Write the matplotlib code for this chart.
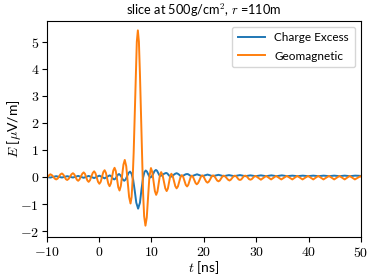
import matplotlib
matplotlib.use("Agg")
import matplotlib.pyplot as plt
from matplotlib.ticker import FuncFormatter

# 波形点（极值点与其间的若干点）
t_geo = [-10.0, -9.825, -9.65, -9.475, -9.3, -9.025, -8.75, -8.475, -8.2, -7.925, -7.65, -7.375,
         -7.1, -6.85, -6.6, -6.35, -6.1, -5.825, -5.55, -5.275, -5.0, -4.75, -4.5, -4.25,
         -4.0, -3.74, -3.48, -3.21, -2.95, -2.71, -2.48, -2.24, -2.0, -1.74, -1.48, -1.21,
         -0.95, -0.7, -0.45, -0.2, 0.05, 0.3, 0.55, 0.8, 1.05, 1.29, 1.53, 1.76,
         2.0, 2.24, 2.48, 2.71, 2.95, 3.19, 3.43, 3.66, 3.9, 4.15, 4.4, 4.65,
         4.9, 5.18, 5.45, 5.73, 6.0, 6.2, 6.4, 6.6, 6.8, 7.0, 7.2, 7.4,
         7.6, 7.8, 8.0, 8.2, 8.4, 8.6, 8.85, 9.1, 9.35, 9.6, 9.9, 10.15,
         10.4, 10.65, 10.9, 11.14, 11.38, 11.61, 11.85, 12.11, 12.38, 12.64, 12.9, 13.13,
         13.35, 13.58, 13.8, 14.05, 14.3, 14.55, 14.8, 15.05, 15.3, 15.55, 15.8, 16.05,
         16.3, 16.55, 16.8, 17.03, 17.25, 17.48, 17.7, 17.94, 18.18, 18.41, 18.65, 18.91,
         19.18, 19.44, 19.7, 19.95, 20.2, 20.45, 20.7, 20.96, 21.23, 21.49, 21.75, 22.01,
         22.54, 22.8, 23.05, 23.55, 23.8, 24.08, 24.63, 24.9, 25.15, 25.65, 25.9, 26.15,
         26.65, 26.9, 27.15, 27.65, 27.9, 28.15, 28.65, 28.9, 29.15, 29.65, 29.9, 30.9,
         31.9, 32.85, 33.8, 34.8, 35.85, 36.9, 37.85, 38.85, 39.9, 40.9, 41.85, 42.85,
         43.9, 44.9, 45.9, 46.9, 47.85, 48.85, 49.9, 50.0]
E_geo = [-0.02, 0.00, 0.04, 0.08, 0.10, 0.07, 0.01, -0.06, -0.09, -0.06, 0.02, 0.10,
         0.13, 0.09, 0.01, -0.08, -0.11, -0.07, 0.01, 0.10, 0.14, 0.10, 0.00, -0.10,
         -0.14, -0.09, 0.02, 0.12, 0.17, 0.12, -0.01, -0.13, -0.18, -0.12, 0.02, 0.15,
         0.21, 0.14, -0.02, -0.18, -0.25, -0.18, 0.00, 0.18, 0.25, 0.16, -0.05, -0.25,
         -0.34, -0.24, 0.00, 0.24, 0.34, 0.22, -0.08, -0.38, -0.50, -0.33, 0.07, 0.46,
         0.63, 0.40, -0.18, -0.74, -0.98, -0.75, -0.10, 0.90, 2.30, 3.80, 5.00, 5.42,
         5.00, 3.80, 2.30, 0.70, -0.60, -1.45, -1.80, -1.50, -0.75, 0.00, 0.33, 0.19,
         -0.17, -0.52, -0.66, -0.54, -0.24, 0.06, 0.18, 0.08, -0.17, -0.42, -0.52, -0.43,
         -0.20, 0.03, 0.12, 0.04, -0.15, -0.34, -0.42, -0.35, -0.18, 0.00, 0.07, 0.01,
         -0.14, -0.29, -0.35, -0.29, -0.15, -0.01, 0.05, 0.00, -0.11, -0.22, -0.27, -0.22,
         -0.11, 0.01, 0.06, 0.02, -0.08, -0.17, -0.21, -0.17, -0.08, 0.02, 0.06, 0.03,
         -0.13, -0.16, -0.13, 0.02, 0.05, 0.02, -0.10, -0.13, -0.10, 0.02, 0.05, 0.03,
         -0.09, -0.11, -0.09, 0.03, 0.05, 0.03, -0.08, -0.10, -0.08, 0.02, 0.04, -0.10,
         0.04, -0.09, 0.04, -0.09, 0.04, -0.09, 0.04, -0.09, 0.04, -0.09, 0.04, -0.09,
         0.04, -0.09, 0.04, -0.09, 0.04, -0.09, 0.03, 0.02]

t_ce = [-10.0, -9.3, -8.2, -7.1, -6.1, -5.0, -4.0, -2.95, -2.0, -0.95, 0.05, 1.05,
        2.0, 2.23, 2.45, 2.68, 2.9, 3.13, 3.35, 3.58, 3.8, 4.05, 4.3, 4.55,
        4.8, 5.08, 5.35, 5.63, 5.9, 6.2, 6.5, 6.8, 7.1, 7.45, 7.8, 8.1,
        8.4, 8.65, 8.9, 9.13, 9.35, 9.58, 9.8, 10.06, 10.33, 10.59, 10.85, 11.06,
        11.28, 11.49, 11.7, 11.98, 12.25, 12.53, 12.8, 13.03, 13.25, 13.48, 13.7, 13.98,
        14.25, 14.53, 14.8, 15.03, 15.25, 15.48, 15.7, 15.98, 16.25, 16.53, 16.8, 17.03,
        17.25, 17.48, 17.7, 18.7, 19.7, 20.7, 21.7, 22.8, 23.8, 24.8, 25.8, 26.9,
        27.9, 28.9, 29.9, 30.9, 31.9, 32.9, 33.9, 34.9, 35.9, 36.9, 37.9, 38.9,
        39.9, 40.9, 41.9, 42.9, 43.9, 44.9, 45.9, 46.9, 47.9, 48.9, 50.0]
E_ce = [0.00, -0.02, 0.03, -0.02, 0.03, -0.02, 0.04, -0.03, 0.04, -0.04, 0.05, -0.05,
        0.06, 0.04, -0.01, -0.07, -0.09, -0.06, 0.01, 0.08, 0.11, 0.07, -0.01, -0.10,
        -0.14, -0.09, 0.03, 0.15, 0.20, 0.12, -0.10, -0.50, -0.95, -1.17, -0.95, -0.45,
        -0.02, 0.18, 0.24, 0.20, 0.11, 0.02, -0.02, 0.02, 0.12, 0.22, 0.26, 0.23,
        0.15, 0.07, 0.04, 0.06, 0.10, 0.13, 0.15, 0.13, 0.08, 0.03, 0.01, 0.03,
        0.08, 0.12, 0.14, 0.12, 0.09, 0.05, 0.03, 0.04, 0.07, 0.10, 0.11, 0.10,
        0.07, 0.04, 0.03, 0.10, 0.03, 0.09, 0.03, 0.08, 0.03, 0.07, 0.03, 0.07,
        0.03, 0.06, 0.03, 0.06, 0.03, 0.06, 0.03, 0.06, 0.03, 0.05, 0.03, 0.05,
        0.03, 0.05, 0.03, 0.05, 0.03, 0.05, 0.03, 0.05, 0.03, 0.05, 0.04]

x_ticks = [-10, 0, 10, 20, 30, 40, 50]
y_ticks = [-2, -1, 0, 1, 2, 3, 4, 5]

plt.rcParams['font.family'] = ['Lato', 'DejaVu Sans']
plt.rcParams['mathtext.fontset'] = 'cm'
plt.rcParams['font.size'] = 9.5

fig = plt.figure(figsize=(3.74, 2.75), dpi=100)
ax = fig.add_axes([0.125, 0.138, 0.84, 0.787])

ax.plot(t_ce, E_ce, color='#1f77b4', lw=1.4, label='Charge Excess')
ax.plot(t_geo, E_geo, color='#ff7f0e', lw=1.4, label='Geomagnetic')

ax.set_xlim(-10, 50)
ax.set_ylim(-2.22, 5.78)
ax.set_xticks(x_ticks)
ax.set_yticks(y_ticks)
fmt = FuncFormatter(lambda v, p: r'$\mathbf{%g}$' % v)
ax.xaxis.set_major_formatter(fmt)
ax.yaxis.set_major_formatter(fmt)
ax.tick_params(labelsize=10, pad=2)

ax.set_xlabel(r'$t$ [ns]', fontsize=10, labelpad=0)
ax.set_ylabel(r'$E$ [$\mu$V/m]', fontsize=10)
ax.yaxis.set_label_coords(-0.075, 0.5)
ax.set_title(r'slice at 500g/cm$^2$, $r$ =110m', fontsize=9.2, pad=4)
ax.legend(loc='upper right', fontsize=8.5, handlelength=2.3, handletextpad=0.8,
          labelspacing=0.6, borderpad=0.5)

fig.savefig('out.png', dpi=100)
